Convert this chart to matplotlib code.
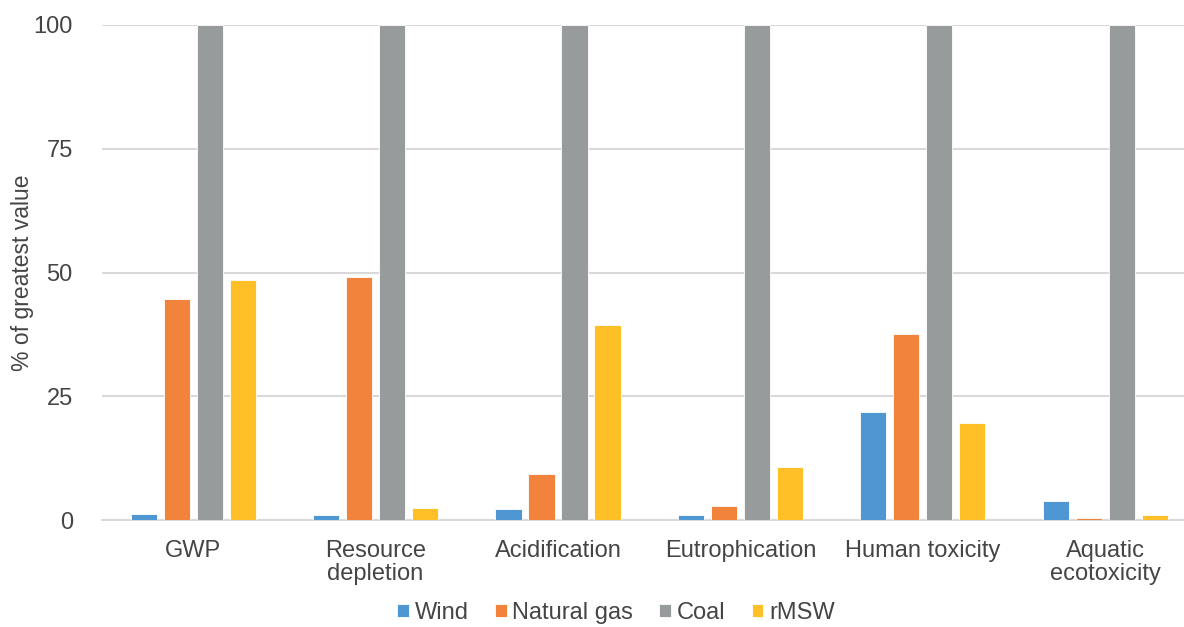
import matplotlib.pyplot as plt
import numpy as np

plt.rcParams['font.family'] = ['Liberation Sans', 'DejaVu Sans']

categories = ["GWP", "Resource\ndepletion", "Acidification", "Eutrophication",
              "Human toxicity", "Aquatic\necotoxicity"]
series = ["Wind", "Natural gas", "Coal", "rMSW"]
wind = [1.3, 1.1, 2.2, 1.1, 21.9, 3.8]
natural_gas = [44.7, 49.0, 9.3, 2.9, 37.6, 0.4]
coal = [100, 100, 100, 100, 100, 100]
rmsw = [48.4, 2.4, 39.4, 10.8, 19.7, 1.0]
yticks = [0, 25, 50, 75, 100]

colors = ["#4F97D2", "#F2833C", "#989B9B", "#FEBF27"]
text_col = "#454545"

fig = plt.figure(figsize=(11.84, 6.27), dpi=100)
ax = fig.add_axes([102 / 1184, 106.7 / 627, 1094.4 / 1184, 495.6 / 627])

x = np.arange(len(categories))
width = 0.143
step = 0.181
for i, (name, vals) in enumerate(zip(series, [wind, natural_gas, coal, rmsw])):
    ax.bar(x + (i - 1.5) * step, vals, width, color=colors[i], label=name,
           edgecolor="#FFFFFF", linewidth=0.6, zorder=3)

ax.set_xlim(-0.5, len(categories) - 0.5)
ax.set_ylim(0, 100)
ax.set_yticks(yticks)
ax.set_xticks(x)
ax.set_xticklabels(categories, fontsize=17, color=text_col, linespacing=1.05)
ax.tick_params(axis="y", labelsize=17, labelcolor=text_col, length=0, pad=21)
ax.tick_params(axis="x", length=0, pad=14)

ax.grid(axis="y", color="#D9D9D9", linewidth=1.5, zorder=0)
for s in ["top", "right", "left"]:
    ax.spines[s].set_visible(False)
ax.spines["bottom"].set_color("#D9D9D9")
ax.spines["bottom"].set_linewidth(1.5)
ax.spines["bottom"].set_zorder(1)

ax.set_ylabel("% of greatest value", fontsize=16.5, color=text_col)
ax.yaxis.set_label_coords(-0.062, 0.5)

fig.legend(loc="center", bbox_to_anchor=(616 / 1184, 1 - 613 / 627), ncol=4,
           frameon=False, fontsize=17, handlelength=0.5, handleheight=0.5,
           handletextpad=0.25, columnspacing=1.1, labelcolor=text_col)

fig.savefig("out.png", dpi=100)
